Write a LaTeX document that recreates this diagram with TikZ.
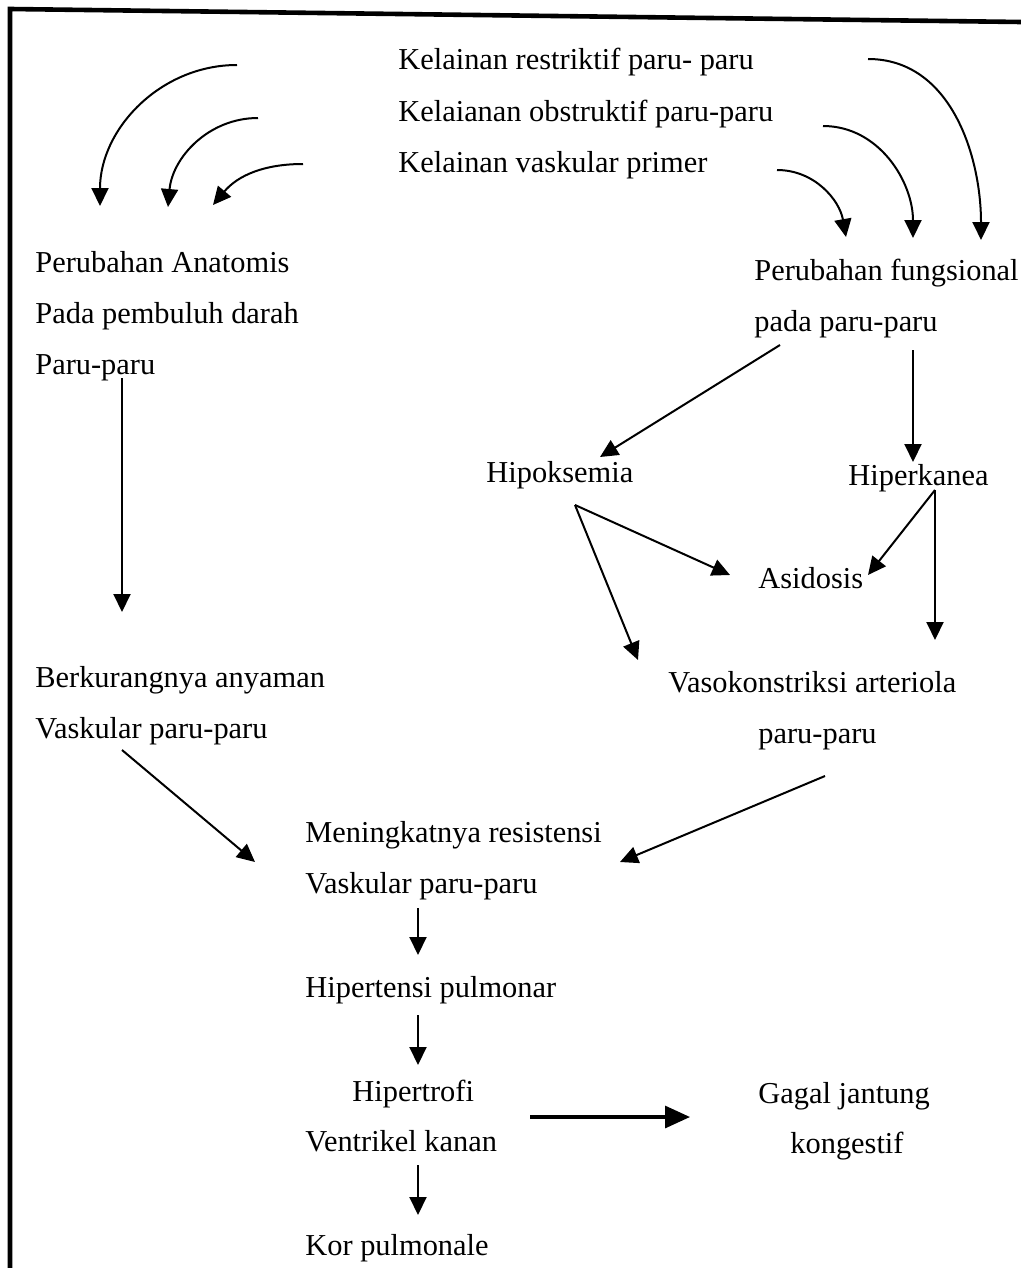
\documentclass[tikz,border=0pt]{standalone}
\usepackage{fontspec}
\setmainfont{Liberation Serif}
\usetikzlibrary{arrows.meta, positioning, calc}

\begin{document}
\begin{tikzpicture}[x=0.5pt, y=-0.5pt, node distance=25.5pt,
    txt/.style={anchor=base west, inner sep=0pt, font=\fontsize{15.2}{18}\selectfont},
    arr/.style={-{Triangle[length=9pt, width=8.5pt]}, line width=1pt},
    bigarr/.style={-{Triangle[length=12.5pt, width=11pt]}, line width=1.6pt}]

    \useasboundingbox (0,0) rectangle (1021,1268);
    \draw[line width=2.3pt] (10,1268) -- (10,9) -- (1021,22);

    % causes
    \node[txt] (restr) at (398,70) {Kelainan restriktif paru- paru};
    \node[txt] (obstr) [below=of restr.base west, anchor=base west] {Kelaianan obstruktif paru-paru};
    \node[txt] (vask) [below=of obstr.base west, anchor=base west] {Kelainan vaskular primer};

    % left branch
    \node[txt] (anat1) at (35,272) {Perubahan Anatomis};
    \node[txt] (anat2) [below=of anat1.base west, anchor=base west] {Pada pembuluh darah};
    \node[txt] (anat3) [below=of anat2.base west, anchor=base west] {Paru-paru};
    \node[txt] (kurang1) at (35,687) {Berkurangnya anyaman};
    \node[txt] (kurang2) [below=of kurang1.base west, anchor=base west] {Vaskular paru-paru};

    % right branch
    \node[txt] (fung1) at (754,280) {Perubahan fungsional};
    \node[txt] (fung2) [below=of fung1.base west, anchor=base west] {pada paru-paru};
    \node[txt] (hipoks) at (486,482) {Hipoksemia};
    \node[txt] (hiperk) at (848,485) {Hiperkanea};
    \node[txt] (asid) at (758,588) {Asidosis};
    \node[txt] (vaso1) at (668,692) {Vasokonstriksi arteriola};
    \node[txt] (vaso2) at (758,743) {paru-paru};

    % common path
    \node[txt] (resist1) at (305,842) {Meningkatnya resistensi};
    \node[txt] (resist2) [below=of resist1.base west, anchor=base west] {Vaskular paru-paru};
    \node[txt] (hipert) at (305,997) {Hipertensi pulmonar};
    \node[txt] (trofi1) at (352,1101) {Hipertrofi};
    \node[txt] (trofi2) at (305,1151) {Ventrikel kanan};
    \node[txt] (gagal1) at (758,1103) {Gagal jantung};
    \node[txt] (gagal2) at (790,1153) {kongestif};
    \node[txt] (kor) at (305,1255) {Kor pulmonale};

    \path[arr]
        ($(restr.base west)+(-161,-5)$) edge[out=180, in=90] ($(anat1.base west)+(65,-66)$)
        ($(obstr.base west)+(-140,-3)$) edge[out=180, in=85] ($(anat1.base west)+(133,-65)$)
        ($(vask.base west)+(-95,-8)$) edge[out=180, in=50] ($(anat1.base west)+(178,-67)$)
        ($(restr.base west)+(470,-11)$) edge[out=0, in=90] ($(fung1.base west)+(227,-40)$)
        ($(obstr.base west)+(425,5)$) edge[out=0, in=90] ($(fung1.base west)+(159,-42)$)
        ($(vask.base west)+(379,-2)$) edge[out=0, in=100] ($(fung1.base west)+(92,-43)$);

    \draw[arr] ($(anat3.base west)+(87,4)$) -- ($(kurang1.base west)+(87,-75)$);
    \draw[arr] ($(kurang2.base west)+(87,12)$) -- ($(resist1.base west)+(-50,20)$);
    \draw[arr] ($(fung2.base west)+(26,14)$) -- ($(hipoks.base west)+(114,-25)$);
    \draw[arr] ($(fung2.base west)+(159,19)$) -- ($(hiperk.base west)+(65,-23)$);
    \draw[arr] ($(hipoks.base west)+(89,23)$) -- ($(asid.base west)+(-28,-13)$);
    \draw[arr] ($(hipoks.base west)+(89,23)$) -- ($(vaso1.base west)+(-30,-32)$);
    \draw[arr] ($(hiperk.base west)+(87,5)$) -- ($(asid.base west)+(110,-13)$);
    \draw[arr] ($(hiperk.base west)+(87,5)$) -- ($(vaso1.base west)+(267,-52)$);
    \draw[arr] ($(vaso2.base west)+(67,33)$) -- ($(resist1.base west)+(315,20)$);
    \draw[arr] ($(resist2.base west)+(113,15)$) -- ($(hipert.base west)+(113,-42)$);
    \draw[arr] ($(hipert.base west)+(113,18)$) -- ($(trofi1.base west)+(66,-36)$);
    \draw[arr] ($(trofi2.base west)+(113,14)$) -- ($(kor.base west)+(113,-40)$);
    \draw[bigarr] ($(trofi2.base west)+(225,-34)$) -- ($(gagal1.base west)+(-68,14)$);
\end{tikzpicture}
\end{document}
